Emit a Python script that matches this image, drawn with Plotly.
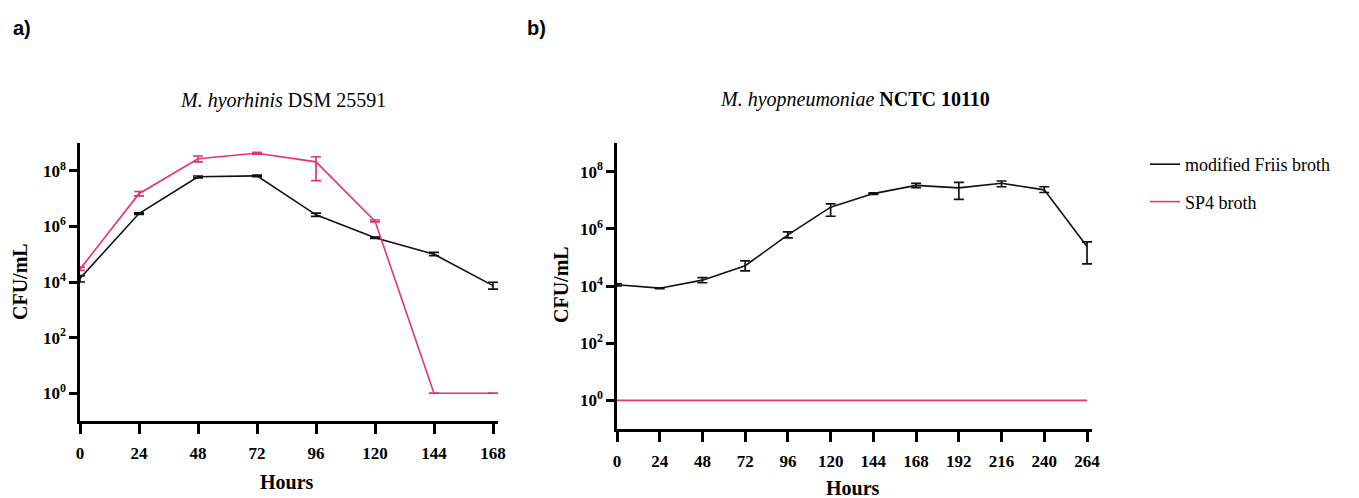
import plotly.graph_objects as go

W, H = 1359, 498


def fx(px):
    return px / W


def fy(py):
    return 1 - py / H


# ---------------- data ----------------
left_hours = [0, 24, 48, 72, 96, 120, 144, 168]
left_friis = [1.35e4, 2.9e6, 6.1e7, 6.6e7, 2.6e6, 3.9e5, 1.0e5, 7.4e3]
left_friis_hi = [1.7e4, 3.1e6, 6.5e7, 7.0e7, 3.0e6, 4.1e5, 1.17e5, 9.8e3]
left_friis_lo = [1.0e4, 2.7e6, 5.6e7, 6.2e7, 2.3e6, 3.7e5, 0.89e5, 5.5e3]
left_sp4 = [2.9e4, 1.5e7, 2.7e8, 4.3e8, 2.1e8, 1.55e6, 1, 1]
left_sp4_hi = [3.4e4, 1.8e7, 3.4e8, 4.6e8, 3.2e8, 1.7e6, 1, 1]
left_sp4_lo = [2.6e4, 1.26e7, 2.1e8, 4.0e8, 4.4e7, 1.45e6, 1, 1]

right_hours = [0, 24, 48, 72, 96, 120, 144, 168, 192, 216, 240, 264]
right_friis = [1.1e4, 8.4e3, 1.6e4, 5.1e4, 6.1e5, 5.7e6, 1.7e7, 3.3e7, 2.7e7, 3.9e7, 2.3e7, 2.4e5]
right_friis_hi = [1.2e4, 8.7e3, 1.95e4, 7.6e4, 7.8e5, 7.4e6, 1.8e7, 3.9e7, 4.2e7, 4.7e7, 2.95e7, 3.5e5]
right_friis_lo = [1.0e4, 8.1e3, 1.3e4, 3.4e4, 4.8e5, 2.75e6, 1.6e7, 2.75e7, 1.07e7, 2.95e7, 1.86e7, 5.9e4]
right_sp4 = [1, 1, 1, 1, 1, 1, 1, 1, 1, 1, 1, 1]

y_tickvals = [1, 1e2, 1e4, 1e6, 1e8]
y_ticktext = ["10<sup>0</sup>", "10<sup>2</sup>", "10<sup>4</sup>", "10<sup>6</sup>", "10<sup>8</sup>"]

series_names = ["modified Friis broth", "SP4 broth"]
BLACK = "#111111"
PINK = "#E8336F"
SERIF = "Liberation Serif"

# small headroom past the last hour so the end error-bar caps are not clipped
LEFT_PAD, RIGHT_PAD = 2, 3
left_px0, left_px1 = 80, 493
right_px0, right_px1 = 617, 1087
left_end = left_px1 + (left_px1 - left_px0) * LEFT_PAD / left_hours[-1]
right_end = right_px1 + (right_px1 - right_px0) * RIGHT_PAD / right_hours[-1]


def errs(mid, hi, lo):
    return [h - m for h, m in zip(hi, mid)], [m - l for m, l in zip(mid, lo)]


fig = go.Figure()

p, m = errs(left_friis, left_friis_hi, left_friis_lo)
fig.add_trace(go.Scatter(
    x=left_hours, y=left_friis, mode="lines", name=series_names[0],
    line=dict(color=BLACK, width=1.6), legendgroup="a", cliponaxis=False,
    error_y=dict(type="data", symmetric=False, array=p, arrayminus=m,
                 color=BLACK, thickness=1.7, width=5),
    xaxis="x", yaxis="y"))
p, m = errs(left_sp4, left_sp4_hi, left_sp4_lo)
fig.add_trace(go.Scatter(
    x=left_hours, y=left_sp4, mode="lines", name=series_names[1],
    line=dict(color=PINK, width=1.6), legendgroup="b", cliponaxis=False,
    error_y=dict(type="data", symmetric=False, array=p, arrayminus=m,
                 color=PINK, thickness=1.7, width=5),
    xaxis="x", yaxis="y"))

fig.add_trace(go.Scatter(
    x=right_hours, y=right_sp4, mode="lines", name=series_names[1],
    line=dict(color=PINK, width=1.6), showlegend=False, cliponaxis=False,
    xaxis="x2", yaxis="y2"))
p, m = errs(right_friis, right_friis_hi, right_friis_lo)
fig.add_trace(go.Scatter(
    x=right_hours, y=right_friis, mode="lines", name=series_names[0],
    line=dict(color=BLACK, width=1.6), showlegend=False, cliponaxis=False,
    error_y=dict(type="data", symmetric=False, array=p, arrayminus=m,
                 color=BLACK, thickness=1.7, width=5),
    xaxis="x2", yaxis="y2"))

tickfont = dict(family=SERIF, size=17, color="black", weight="bold")
common_x = dict(showline=True, linecolor="black", linewidth=2.5, ticks="outside",
                ticklen=10, tickwidth=2.5, tickcolor="black", showgrid=False,
                zeroline=False, tickfont=tickfont, tickmode="array", fixedrange=True,
                automargin=False, ticklabelstandoff=5)
common_y = dict(type="log", range=[-1, 9], showline=True, linecolor="black", linewidth=2.5,
                ticks="outside", ticklen=8, tickwidth=2.5, tickcolor="black",
                showgrid=False, zeroline=False, tickfont=tickfont, automargin=False,
                tickmode="array", tickvals=y_tickvals, ticktext=y_ticktext)

fig.update_layout(
    width=W, height=H,
    margin=dict(l=0, r=0, t=0, b=0, autoexpand=False),
    paper_bgcolor="white", plot_bgcolor="white",
    xaxis=dict(domain=[fx(left_px0), fx(left_end)], range=[0, left_hours[-1] + LEFT_PAD],
               tickvals=left_hours, anchor="y", **common_x),
    yaxis=dict(domain=[fy(421), fy(143)], anchor="x", **common_y),
    xaxis2=dict(domain=[fx(right_px0), fx(right_end)], range=[0, right_hours[-1] + RIGHT_PAD],
                tickvals=right_hours, anchor="y2", **common_x),
    yaxis2=dict(domain=[fy(429), fy(143)], anchor="x2", **common_y),
    legend=dict(x=fx(1145), y=fy(146), xanchor="left", yanchor="top",
                font=dict(family=SERIF, size=18, color="black"),
                traceorder="grouped", tracegroupgap=11, bgcolor="rgba(0,0,0,0)"),
    showlegend=True,
)

annots = [
    dict(text="<b>a)</b>", x=fx(11), y=fy(28), xanchor="left",
         font=dict(family="Liberation Sans", size=20)),
    dict(text="<b>b)</b>", x=fx(525), y=fy(28), xanchor="left",
         font=dict(family="Liberation Sans", size=20)),
    dict(text="<i>M. hyorhinis</i> DSM 25591", x=fx(283), y=fy(100),
         font=dict(family=SERIF, size=20)),
    dict(text="<i>M. hyopneumoniae</i> <b>NCTC 10110</b>", x=fx(855), y=fy(99),
         font=dict(family=SERIF, size=20)),
    dict(text="<b>CFU/mL</b>", x=fx(20), y=fy(282), textangle=-90,
         font=dict(family=SERIF, size=20)),
    dict(text="<b>CFU/mL</b>", x=fx(561), y=fy(285), textangle=-90,
         font=dict(family=SERIF, size=20)),
    dict(text="<b>Hours</b>", x=fx(287), y=fy(482),
         font=dict(family=SERIF, size=20)),
    dict(text="<b>Hours</b>", x=fx(853), y=fy(488),
         font=dict(family=SERIF, size=20)),
]
for a in annots:
    a.update(xref="paper", yref="paper", showarrow=False, yanchor="middle")
    a.setdefault("xanchor", "center")
    a["font"]["color"] = "black"
    fig.add_annotation(**a)

# remove the default 8px page margin so the figure fills the window exactly
fig.write_html("out.html", config={"displayModeBar": False},
               post_script="document.body.style.margin='0';")
